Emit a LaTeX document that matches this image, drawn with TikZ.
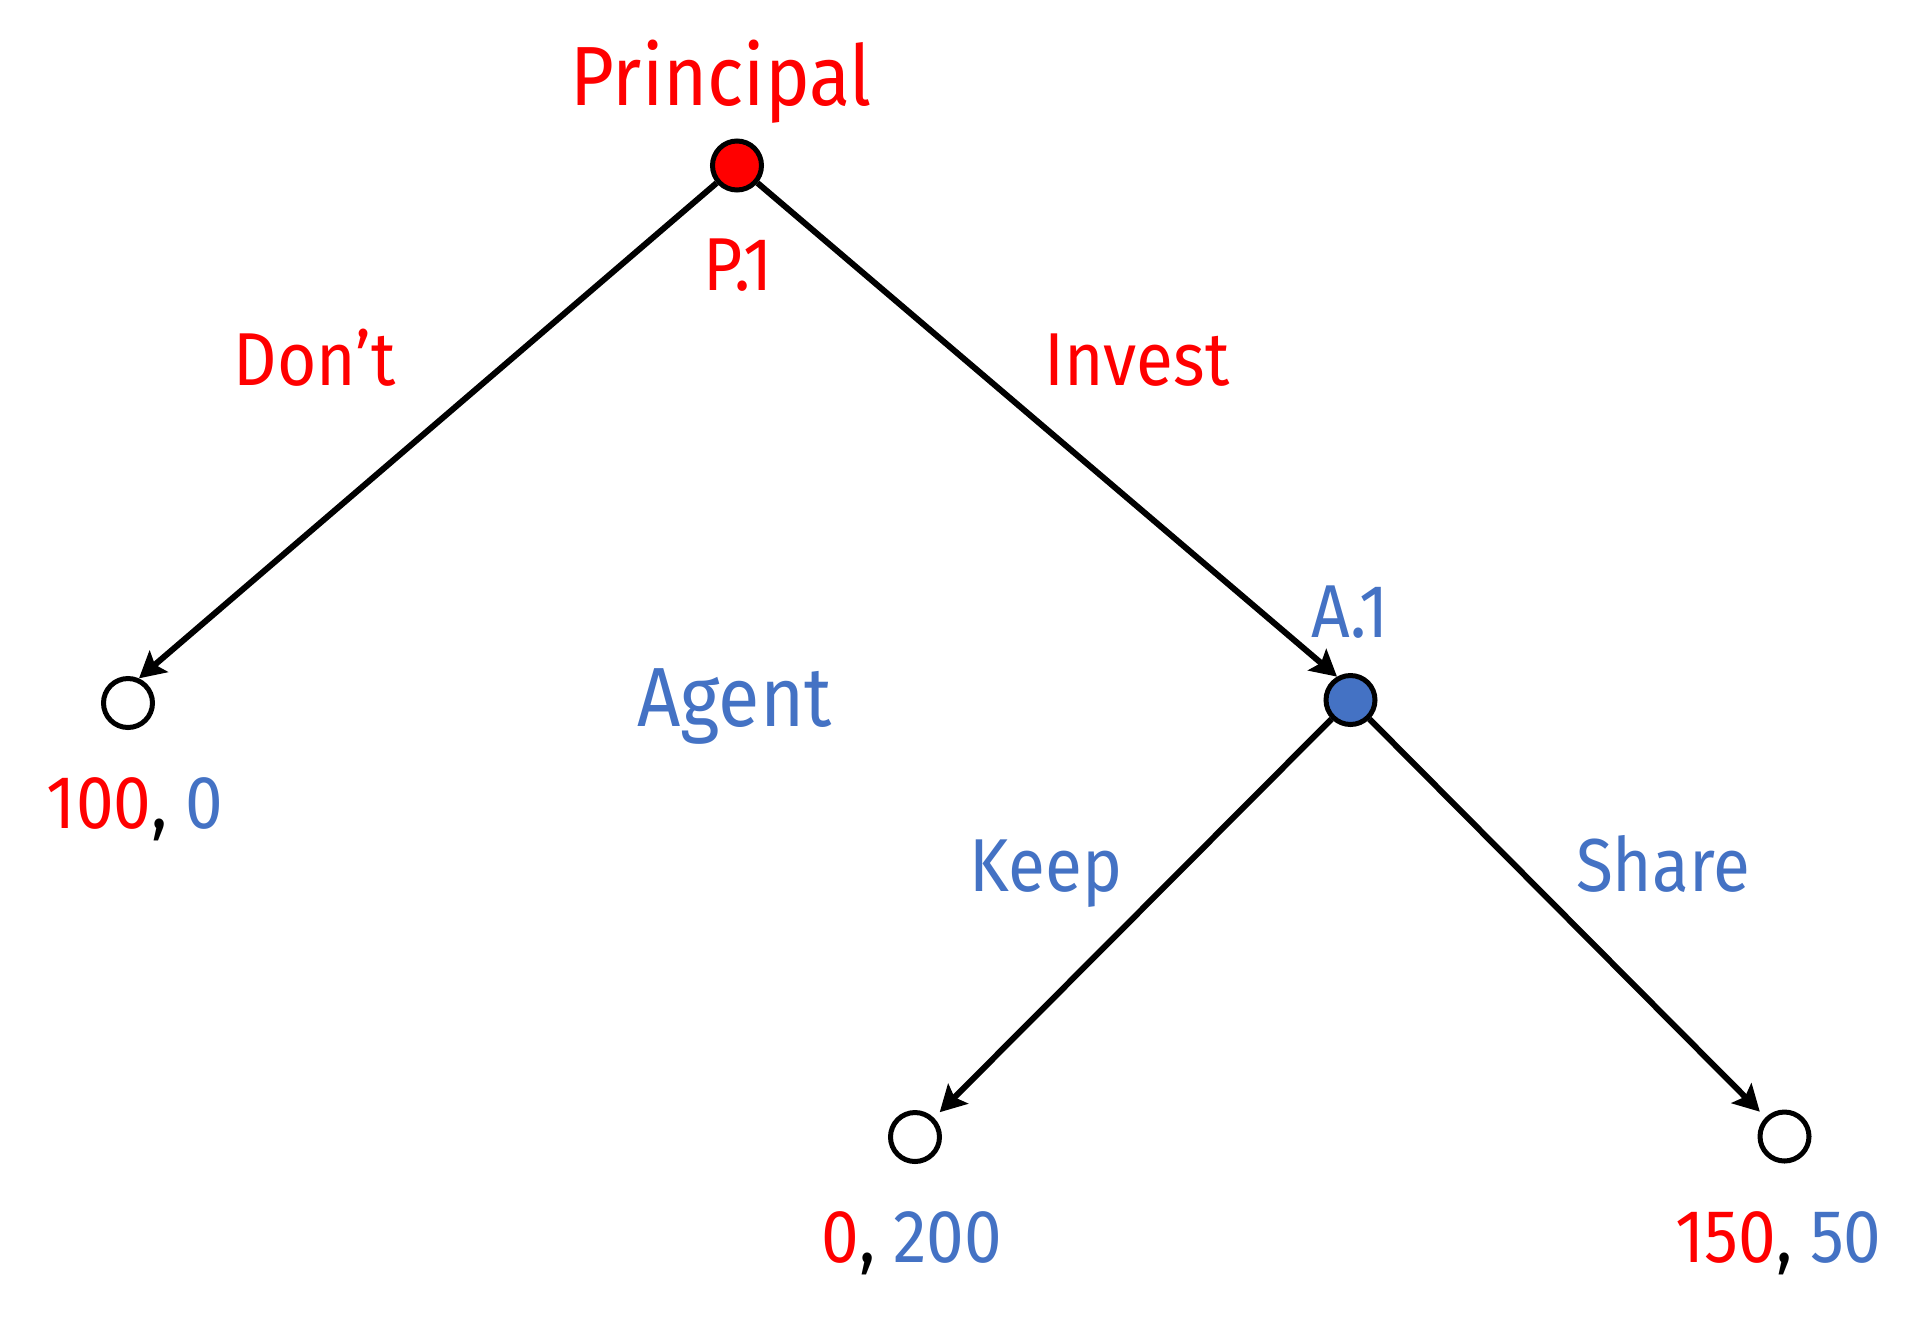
\documentclass[tikz,border=0pt]{standalone}
\usepackage{fontspec}
\setmainfont{Fira Sans}[FakeStretch=0.9]
\usetikzlibrary{arrows.meta}
\definecolor{pred}{RGB}{255,0,0}
\definecolor{ablue}{RGB}{68,114,196}

\tikzstyle{decision} = [circle, draw, line width=2.5pt, minimum size=24.5pt, inner sep=0pt]
\tikzstyle{leaf} = [decision, fill=white]
\tikzstyle{big} = [anchor=base, inner sep=0pt, font=\fontsize{42}{48}\selectfont]
\tikzstyle{small} = [anchor=base, inner sep=0pt, font=\fontsize{37.5}{44}\selectfont]
\tikzstyle{arrow} = [draw, line width=3pt, -{Stealth[length=13pt, width=14pt, inset=2.5pt]}]

\begin{document}
\begin{tikzpicture}[x=0.5pt, y=-0.5pt]
    \useasboundingbox (0,0) rectangle (1929,1329);

    \node[decision, fill=pred] (root) at (737,165.5) {};
    \node[leaf, below of=root, node distance=268.75pt, xshift=-304.5pt] (dont) {};
    \node[decision, fill=ablue, below of=root, node distance=267.25pt, xshift=306.75pt] (agent) {};
    \node[leaf, below of=agent, node distance=218.5pt, xshift=-217.75pt] (keep) {};
    \node[leaf, below of=agent, node distance=218.25pt, xshift=217pt] (share) {};

    % lines
    \draw [arrow] (root) to (dont.66);
    \draw [arrow] (root) to (agent.120);
    \draw [arrow, shorten >=4pt] (agent) to (keep);
    \draw [arrow, shorten >=4pt] (agent) to (share);

    % players
    \node[big, text=pred] (principalT) at (721,105) {Principal};
    \node[small, text=pred] (p1T) at (738,290) {P.1};
    \node[big, text=ablue] (agentT) at (734.5,726) {Agent};
    \node[small, text=ablue] (a1T) at (1350,637) {A.1};

    % moves
    \node[small, text=pred] (dontT) at (315,385) {Don’t};
    \node[small, text=pred] (investT) at (1137,385) {Invest};
    \node[small, text=ablue] (keepT) at (1046,891) {Keep};
    \node[small, text=ablue] (shareT) at (1663,891) {Share};

    % payoffs
    \node[small] (dontP) at (135,828) {\textcolor{pred}{100}, \textcolor{ablue}{0}};
    \node[small] (keepP) at (912,1262) {\textcolor{pred}{0}, \textcolor{ablue}{200}};
    \node[small] (shareP) at (1778.5,1262) {\textcolor{pred}{150}, \textcolor{ablue}{50}};
\end{tikzpicture}
\end{document}
